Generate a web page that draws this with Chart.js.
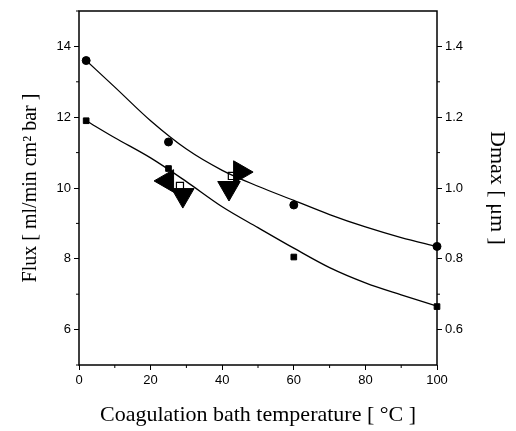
<!DOCTYPE html>
<html>
<head>
<meta charset="utf-8">
<script src="https://cdn.jsdelivr.net/npm/chart.js@4"></script>
<style>
  html, body { margin: 0; padding: 0; background: #fff; }
  #wrap { width: 516px; height: 431px; }
</style>
</head>
<body>
<div id="wrap"><canvas id="fluxChart" width="516" height="431"></canvas></div>
<script>
// measured points
const tempPts = [2, 25, 60, 100];
const fluxA = [13.6, 11.3, 9.52, 8.35];   // circles
const fluxB = [11.9, 10.55, 8.05, 6.65];  // squares

// fitted curves
const fitX = [2, 10, 20, 30, 40, 50, 60, 70, 80, 90, 100];
const fitA = [13.6, 12.85, 11.9, 11.1, 10.5, 10.05, 9.65, 9.25, 8.9, 8.6, 8.35];
const fitB = [11.9, 11.42, 10.85, 10.18, 9.47, 8.88, 8.3, 7.75, 7.32, 6.98, 6.66];

// Dmax markers (right axis)
const dmaxX = [24.6, 29, 41.9, 45];
const dmaxY = [1.02, 0.98, 1.0, 1.045];
const dmaxRot = [-90, 180, 180, 90];
const openSqX = [28.2, 42.7];
const openSqY = [1.006, 1.034];

const xTicks = [0, 20, 40, 60, 80, 100];
const xMinor = [10, 30, 50, 70, 90];
const leftMinor = [5, 7, 9, 11, 13, 15];
const rightMinor = [0.7, 0.9, 1.1, 1.3];

function pts(xs, ys) {
    return xs.map((x, i) => ({ x: x, y: ys[i] }));
}

// frame + short minor ticks
const framePlugin = {
    id: "frame",
    afterDatasetsDraw(chart) {
        const ctx = chart.ctx;
        const a = chart.chartArea;
        ctx.save();
        ctx.strokeStyle = "#000";
        ctx.lineWidth = 1.5;
        ctx.strokeRect(a.left, a.top, a.right - a.left, a.bottom - a.top);
        ctx.lineWidth = 1;
        ctx.beginPath();
        xMinor.forEach(v => {
            const px = chart.scales.x.getPixelForValue(v);
            ctx.moveTo(px, a.bottom);
            ctx.lineTo(px, a.bottom + 3);
        });
        leftMinor.forEach(v => {
            const py = chart.scales.y.getPixelForValue(v);
            ctx.moveTo(a.left, py);
            ctx.lineTo(a.left - 3, py);
        });
        rightMinor.forEach(v => {
            const py = chart.scales.y2.getPixelForValue(v);
            ctx.moveTo(a.right, py);
            ctx.lineTo(a.right + 3, py);
        });
        ctx.stroke();
        ctx.restore();
    }
};

const tickFont = { family: "'Liberation Sans', Arial, sans-serif", size: 13 };
const titleFont = { family: "'Liberation Serif', 'Times New Roman', serif", size: 22 };
const leftTitleFont = { family: "'Liberation Serif', 'Times New Roman', serif", size: 20 };

const config = {
    type: "scatter",
    data: {
        datasets: [
            {
                label: "fit A",
                data: pts(fitX, fitA),
                showLine: true,
                borderColor: "#000",
                borderWidth: 1.3,
                pointRadius: 0,
                cubicInterpolationMode: "monotone",
                yAxisID: "y"
            },
            {
                label: "fit B",
                data: pts(fitX, fitB),
                showLine: true,
                borderColor: "#000",
                borderWidth: 1.3,
                pointRadius: 0,
                cubicInterpolationMode: "monotone",
                yAxisID: "y"
            },
            {
                label: "Flux A",
                data: pts(tempPts, fluxA),
                pointStyle: "circle",
                pointRadius: 4,
                backgroundColor: "#000",
                borderColor: "#000",
                clip: false,
                yAxisID: "y"
            },
            {
                label: "Flux B",
                data: pts(tempPts, fluxB),
                pointStyle: "rect",
                pointRadius: 4,
                backgroundColor: "#000",
                borderColor: "#000",
                clip: false,
                yAxisID: "y"
            },
            {
                label: "Dmax",
                data: pts(dmaxX, dmaxY),
                pointStyle: "triangle",
                pointRadius: 13,
                rotation: dmaxRot,
                backgroundColor: "#000",
                borderColor: "#000",
                yAxisID: "y2"
            },
            {
                label: "Dmax open",
                data: pts(openSqX, openSqY),
                pointStyle: "rect",
                pointRadius: 5,
                backgroundColor: "#fff",
                borderColor: "#000",
                borderWidth: 1.2,
                yAxisID: "y2"
            }
        ]
    },
    options: {
        responsive: false,
        animation: false,
        layout: { autoPadding: false, padding: { top: 11, left: 0, right: 0, bottom: 0 } },
        plugins: {
            legend: { display: false },
            tooltip: { enabled: false }
        },
        scales: {
            x: {
                type: "linear",
                min: 0,
                max: 100,
                afterBuildTicks: s => { s.ticks = xTicks.map(v => ({ value: v })); },
                ticks: { color: "#000", font: tickFont, padding: 3 },
                grid: { drawOnChartArea: false, tickLength: 5, color: "#000" },
                border: { display: false },
                title: {
                    display: true,
                    text: "Coagulation bath temperature [ °C ]",
                    color: "#000",
                    font: titleFont,
                    padding: { top: 0, bottom: 3 }
                },
                afterFit: s => { s.height = 66; }
            },
            y: {
                position: "left",
                min: 5,
                max: 15,
                afterBuildTicks: s => { s.ticks = [6, 8, 10, 12, 14].map(v => ({ value: v })); },
                ticks: { color: "#000", font: tickFont, padding: 3 },
                grid: { drawOnChartArea: false, tickLength: 5, color: "#000" },
                border: { display: false },
                title: {
                    display: true,
                    text: "Flux [ ml/min cm² bar ]",
                    color: "#000",
                    font: leftTitleFont,
                    padding: { top: 19, bottom: 0 }
                },
                afterFit: s => { s.width = 79; }
            },
            y2: {
                position: "right",
                min: 0.5,
                max: 1.5,
                afterBuildTicks: s => { s.ticks = [0.6, 0.8, 1.0, 1.2, 1.4].map(v => ({ value: v })); },
                ticks: {
                    color: "#000",
                    font: tickFont,
                    padding: 3,
                    callback: v => v.toFixed(1)
                },
                grid: { drawOnChartArea: false, tickLength: 5, color: "#000" },
                border: { display: false },
                title: {
                    display: true,
                    text: "Dmax [ μm ]",
                    color: "#000",
                    font: titleFont,
                    padding: { top: 6, bottom: 0 }
                },
                afterFit: s => { s.width = 79; }
            }
        }
    },
    plugins: [framePlugin]
};

new Chart(document.getElementById("fluxChart"), config);
</script>
</body>
</html>
